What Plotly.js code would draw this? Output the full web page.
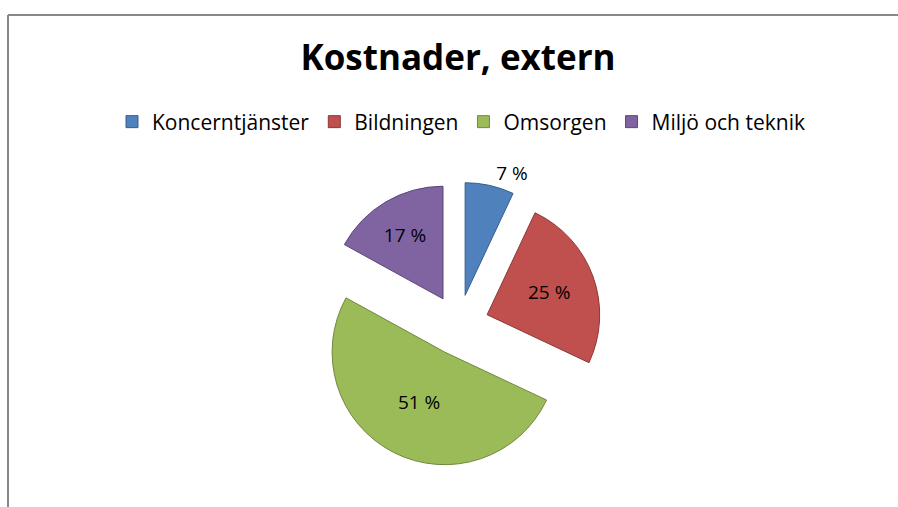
<!DOCTYPE html>
<html>
<head>
<meta charset="utf-8">
<script src="https://cdn.plot.ly/plotly-3.0.1.min.js"></script>
<style>
html,body{margin:0;padding:0;background:#fff;}
#chart{width:898px;height:507px;}
</style>
</head>
<body>
<div id="chart"></div>
<script>
const categories = ["Koncerntjänster", "Bildningen", "Omsorgen", "Miljö och teknik"];
const values = [7, 25, 51, 17];
const sliceColors = ["#4F81BD", "#C0504D", "#9BBB59", "#8064A2"];
const edgeColors = ["#385D8A", "#8C3836", "#71893F", "#5C4776"];
const labelPositions = ["outside", "inside", "inside", "inside"];

const W = 898, H = 507;
const fontFam = "'Open Sans', Lato, sans-serif";

const data = [{
  type: "pie",
  labels: categories,
  values: values,
  sort: false,
  direction: "clockwise",
  rotation: 0,
  pull: 0.27,
  hole: 0,
  marker: {colors: sliceColors, line: {color: edgeColors, width: 1}},
  texttemplate: "%{value} %",
  textposition: labelPositions,
  textfont: {family: fontFam, size: 19, color: "#000"},
  insidetextorientation: "horizontal",
  domain: {x: [313/W, 604/W], y: [1 - 468/H, 1 - 182/H]},
  hoverinfo: "label+percent"
}];

const layout = {
  width: W, height: H,
  margin: {l: 0, r: 0, t: 0, b: 0},
  paper_bgcolor: "#fff",
  title: {
    text: "<b>Kostnader, extern</b>",
    font: {family: fontFam, size: 35, color: "#000"},
    x: 458/W, xanchor: "center",
    y: 1 - 58/H, yanchor: "middle"
  },
  showlegend: true,
  legend: {
    orientation: "h",
    x: 461/W, xanchor: "center",
    y: 1 - 122/H, yanchor: "middle",
    font: {family: fontFam, size: 21, color: "#000"},
    itemwidth: 30,
    traceorder: "normal"
  },
  shapes: [
    {type: "line", xref: "paper", yref: "paper", x0: 8/W, x1: 1, y0: 1 - 15/H, y1: 1 - 15/H, line: {color: "#888", width: 2}},
    {type: "line", xref: "paper", yref: "paper", x0: 8/W, x1: 8/W, y0: 1 - 15/H, y1: 0, line: {color: "#888", width: 2}}
  ]
};

Plotly.newPlot("chart", data, layout, {displayModeBar: false, staticPlot: true});
</script>
</body>
</html>
